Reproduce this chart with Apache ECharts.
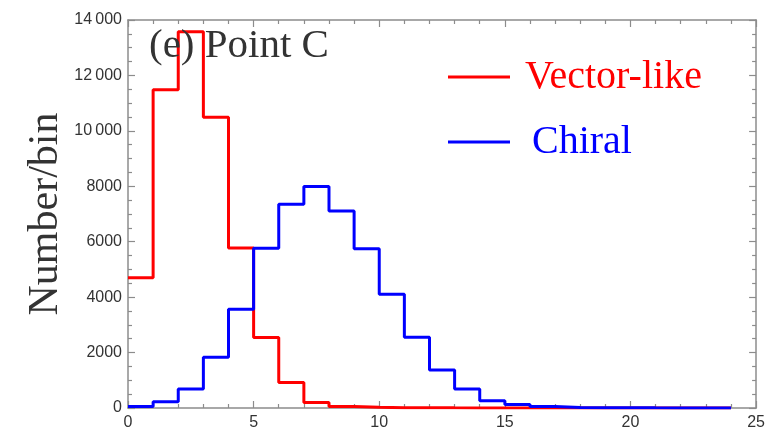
<!DOCTYPE html>
<html>
<head>
<meta charset="utf-8">
<script src="https://cdn.jsdelivr.net/npm/echarts@6/dist/echarts.min.js"></script>
<style>
  html, body { margin: 0; padding: 0; background: #fff; }
  #main { width: 768px; height: 433px; }
</style>
</head>
<body>
<div id="main"></div>
<script>
// histogram bins of width 1 starting at 0
const binStart = 0;
const binWidth = 1;
const vectorLike = [4700, 11480, 13580, 10490, 5770, 2540, 920, 200, 55, 25, 12, 8, 5, 3, 2, 1, 1, 0, 0, 0, 0, 0, 0, 0];
const chiral = [50, 230, 690, 1830, 3560, 5760, 7350, 7990, 7110, 5750, 4100, 2550, 1370, 690, 265, 130, 50, 20, 12, 8, 5, 3, 2, 1];
const xTicks = [0, 5, 10, 15, 20, 25];
const yTicks = [0, 2000, 4000, 6000, 8000, 10000, 12000, 14000];

// step points: each bin drawn flat from its left edge to its right edge
function toSteps(vals) {
    const pts = vals.map((v, i) => [binStart + i * binWidth, v]);
    pts.push([binStart + vals.length * binWidth, vals[vals.length - 1]]);
    return pts;
}

// 14000 -> "14 000" with a thin space, 8000 stays as is
function fmtCount(v) {
    if (v < 10000) return String(v);
    const s = String(v);
    return s.slice(0, s.length - 3) + '\u2009' + s.slice(s.length - 3);
}

const serif = '"Liberation Serif", "DejaVu Serif", serif';
const sans = '"Liberation Sans", Arial, sans-serif';
const frame = '#8c8c8c';

const xBase = {
    type: 'value',
    min: xTicks[0],
    max: xTicks[xTicks.length - 1],
    interval: xTicks[1] - xTicks[0],
    axisLine: { show: true, onZero: false, lineStyle: { color: frame, width: 1.5 } },
    axisTick: { inside: true, length: 7, lineStyle: { color: frame, width: 1.2 } },
    minorTick: { show: true, splitNumber: 5, length: 4, lineStyle: { color: frame, width: 1.2 } },
    splitLine: { show: false }
};
const yBase = {
    type: 'value',
    min: yTicks[0],
    max: yTicks[yTicks.length - 1],
    interval: yTicks[1] - yTicks[0],
    axisLine: { show: true, onZero: false, lineStyle: { color: frame, width: 1.5 } },
    axisTick: { inside: true, length: 7, lineStyle: { color: frame, width: 1.2 } },
    minorTick: { show: true, splitNumber: 4, length: 4, lineStyle: { color: frame, width: 1.2 } },
    splitLine: { show: false }
};

const chart = echarts.init(document.getElementById('main'));
chart.setOption({
    backgroundColor: '#fff',
    animation: false,
    title: {
        text: '(e) Point C',
        left: 144,
        top: 21,
        textStyle: { fontFamily: serif, fontSize: 41, fontWeight: 'normal', color: '#333' }
    },
    legend: [
        {
            data: [{ name: 'Vector-like', textStyle: { color: '#ff0000' } }],
            left: 443,
            top: 52,
            icon: 'rect',
            itemWidth: 62,
            itemHeight: 3,
            textStyle: { fontFamily: serif, fontSize: 40, padding: [0, 0, 0, 10] }
        },
        {
            data: [{ name: 'Chiral', textStyle: { color: '#0000ff' } }],
            left: 443,
            top: 117,
            icon: 'rect',
            itemWidth: 62,
            itemHeight: 3,
            textStyle: { fontFamily: serif, fontSize: 40, padding: [0, 0, 0, 17] }
        }
    ],
    grid: { left: 128, right: 8, top: 20, bottom: 25 },
    xAxis: [
        Object.assign({}, xBase, {
            position: 'bottom',
            axisLabel: { color: '#333', fontSize: 16, fontFamily: sans, margin: 7 }
        }),
        Object.assign({}, xBase, { position: 'top', axisLabel: { show: false } })
    ],
    yAxis: [
        Object.assign({}, yBase, {
            position: 'left',
            name: 'Number/bin',
            nameLocation: 'middle',
            nameGap: 61,
            nameMoveOverlap: false,
            nameTextStyle: { fontFamily: serif, fontSize: 42, color: '#333' },
            axisLabel: { color: '#333', fontSize: 16, fontFamily: sans, margin: 6, formatter: fmtCount }
        }),
        Object.assign({}, yBase, { position: 'right', axisLabel: { show: false } })
    ],
    series: [
        {
            name: 'Vector-like',
            type: 'line',
            step: 'end',
            symbol: 'none',
            data: toSteps(vectorLike),
            itemStyle: { color: '#ff0000' },
            lineStyle: { color: '#ff0000', width: 3 }
        },
        {
            name: 'Chiral',
            type: 'line',
            step: 'end',
            symbol: 'none',
            data: toSteps(chiral),
            itemStyle: { color: '#0000ff' },
            lineStyle: { color: '#0000ff', width: 3 }
        }
    ]
});
</script>
</body>
</html>
